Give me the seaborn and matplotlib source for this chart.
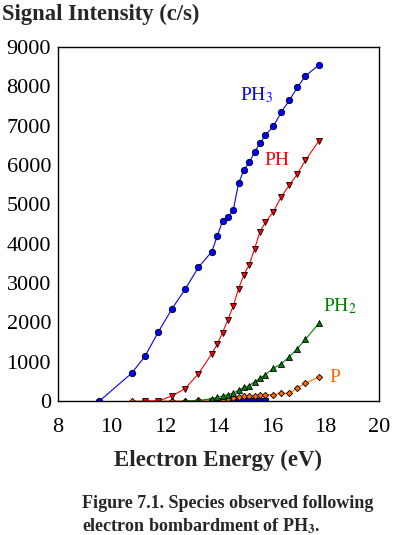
import matplotlib
matplotlib.use("Agg")
import matplotlib.pyplot as plt
import seaborn as sns
import numpy as np
import pandas as pd

# ---- data ----
ph3_x = [9.55, 10.75, 11.25, 11.75, 12.25, 12.75, 13.25, 13.75, 13.95, 14.15, 14.35, 14.55,
         14.75, 14.95, 15.15, 15.35, 15.55, 15.75, 16.05, 16.35, 16.65, 16.95, 17.25, 17.75]
ph3_y = [0, 704, 1136, 1754, 2331, 2839, 3399, 3797, 4188, 4577, 4678, 4848,
         5535, 5873, 6069, 6323, 6552, 6755, 6984, 7348, 7645, 7976, 8263, 8543]

ph_x = [11.25, 11.75, 12.25, 12.75, 13.25, 13.75, 13.95, 14.15, 14.35, 14.55, 14.75, 14.95,
        15.15, 15.35, 15.55, 15.75, 16.05, 16.35, 16.65, 16.95, 17.25, 17.75]
ph_y = [0, 0, 127, 313, 694, 1203, 1442, 1737, 2067, 2415, 2856, 3211,
        3466, 3873, 4305, 4540, 4813, 5195, 5492, 5772, 6120, 6611]

ph2_x = [12.75, 13.25, 13.75, 13.95, 14.15, 14.35, 14.55, 14.75, 14.95, 15.15, 15.35, 15.55,
         15.75, 16.05, 16.35, 16.65, 16.95, 17.25, 17.75]
ph2_y = [0, 10, 58, 90, 127, 165, 200, 272, 350, 389, 495, 580,
         669, 831, 949, 1127, 1330, 1568, 1975]

p_x = [10.75, 11.25, 11.75, 12.25, 12.75, 13.25, 13.75, 13.95, 14.15, 14.35, 14.55, 14.75,
       14.95, 15.15, 15.35, 15.55, 15.75, 16.05, 16.35, 16.65, 16.95, 17.25, 17.75]
p_y = [0, 0, 0, 0, 5, 15, 20, 25, 35, 50, 70, 95,
       115, 127, 130, 145, 155, 165, 196, 196, 338, 450, 610]

zero_x = [13.75, 13.95, 14.15, 14.35, 14.55, 14.75, 14.95, 15.15, 15.35, 15.55, 15.75]
zero_y = [0, 0, 0, 0, 0, 0, 0, 0, 0, 0, 0]

x_ticks = [8, 10, 12, 14, 16, 18, 20]
y_ticks = [0, 1000, 2000, 3000, 4000, 5000, 6000, 7000, 8000, 9000]

# ---- style ----
sns.set_style("white")
plt.rcParams['font.family'] = ['Liberation Serif', 'DejaVu Serif']
plt.rcParams['mathtext.fontset'] = 'stix'

fig = plt.figure(figsize=(3.94, 5.35), dpi=100)
ax = fig.add_axes([58/394, 1-401/535, 321/394, 354/535])

blue = '#0000ff'
red = '#ff0000'
green = '#008000'
orange = '#ff6600'

common = dict(mec='black', mew=0.6, lw=0.8, estimator=None, sort=False, legend=False)
sns.lineplot(x=zero_x, y=zero_y, ax=ax, color=blue, marker='s', markersize=4.5,
             linestyle='none', **{k: v for k, v in common.items() if k != 'lw'})
sns.lineplot(x=p_x, y=p_y, ax=ax, color=orange, marker='D', markersize=3.2, **common)
sns.lineplot(x=ph2_x, y=ph2_y, ax=ax, color=green, marker='^', markersize=4.5, **common)
sns.lineplot(x=ph_x, y=ph_y, ax=ax, color=red, marker='v', markersize=4.5, **common)
sns.lineplot(x=ph3_x, y=ph3_y, ax=ax, color=blue, marker='o', markersize=4.6, **common)

ax.set_xlim(8, 20)
ax.set_ylim(0, 9000)
ax.set_xticks(x_ticks)
ax.set_yticks(y_ticks)
ax.set_xticks(np.arange(9, 20, 2), minor=True)
ax.set_yticks(np.arange(500, 9000, 1000), minor=True)
ax.tick_params(axis='both', which='both', direction='in', labelsize=16, width=0.9,
               colors='black')
ax.tick_params(axis='x', which='major', length=5, pad=12)
ax.tick_params(axis='x', which='minor', length=4)
ax.tick_params(axis='y', which='major', length=6, pad=5)
ax.tick_params(axis='y', which='minor', length=3.5)
for s in ax.spines.values():
    s.set_color('black')
    s.set_linewidth(1.0)
ax.set_xlabel('')
ax.set_ylabel('')

fig.text(2/394, 1-14/535, 'Signal Intensity (c/s)', fontsize=16.3, fontweight='bold',
         ha='left', va='center')
fig.text(218/394, 1-460/535, 'Electron Energy (eV)', fontsize=16.5, fontweight='bold',
         ha='center', va='center')
fig.text(82/394, 1-503/535, 'Figure 7.1. Species observed following', fontsize=13,
         fontweight='bold', ha='left', va='center')
fig.text(82/394, 1-526/535, 'electron bombardment of PH$_\\mathbf{3}$.', fontsize=13,
         fontweight='bold', ha='left', va='center')

ax.text(14.8, 7780, 'PH$_3$', color=blue, fontsize=14, ha='left', va='center')
ax.text(15.7, 6102, 'PH', color=red, fontsize=14, ha='left', va='center')
ax.text(17.9, 2415, 'PH$_2$', color=green, fontsize=14, ha='left', va='center')
ax.text(18.13, 610, 'P', color=orange, fontsize=14, ha='left', va='center')

fig.savefig('out.png', dpi=100)
